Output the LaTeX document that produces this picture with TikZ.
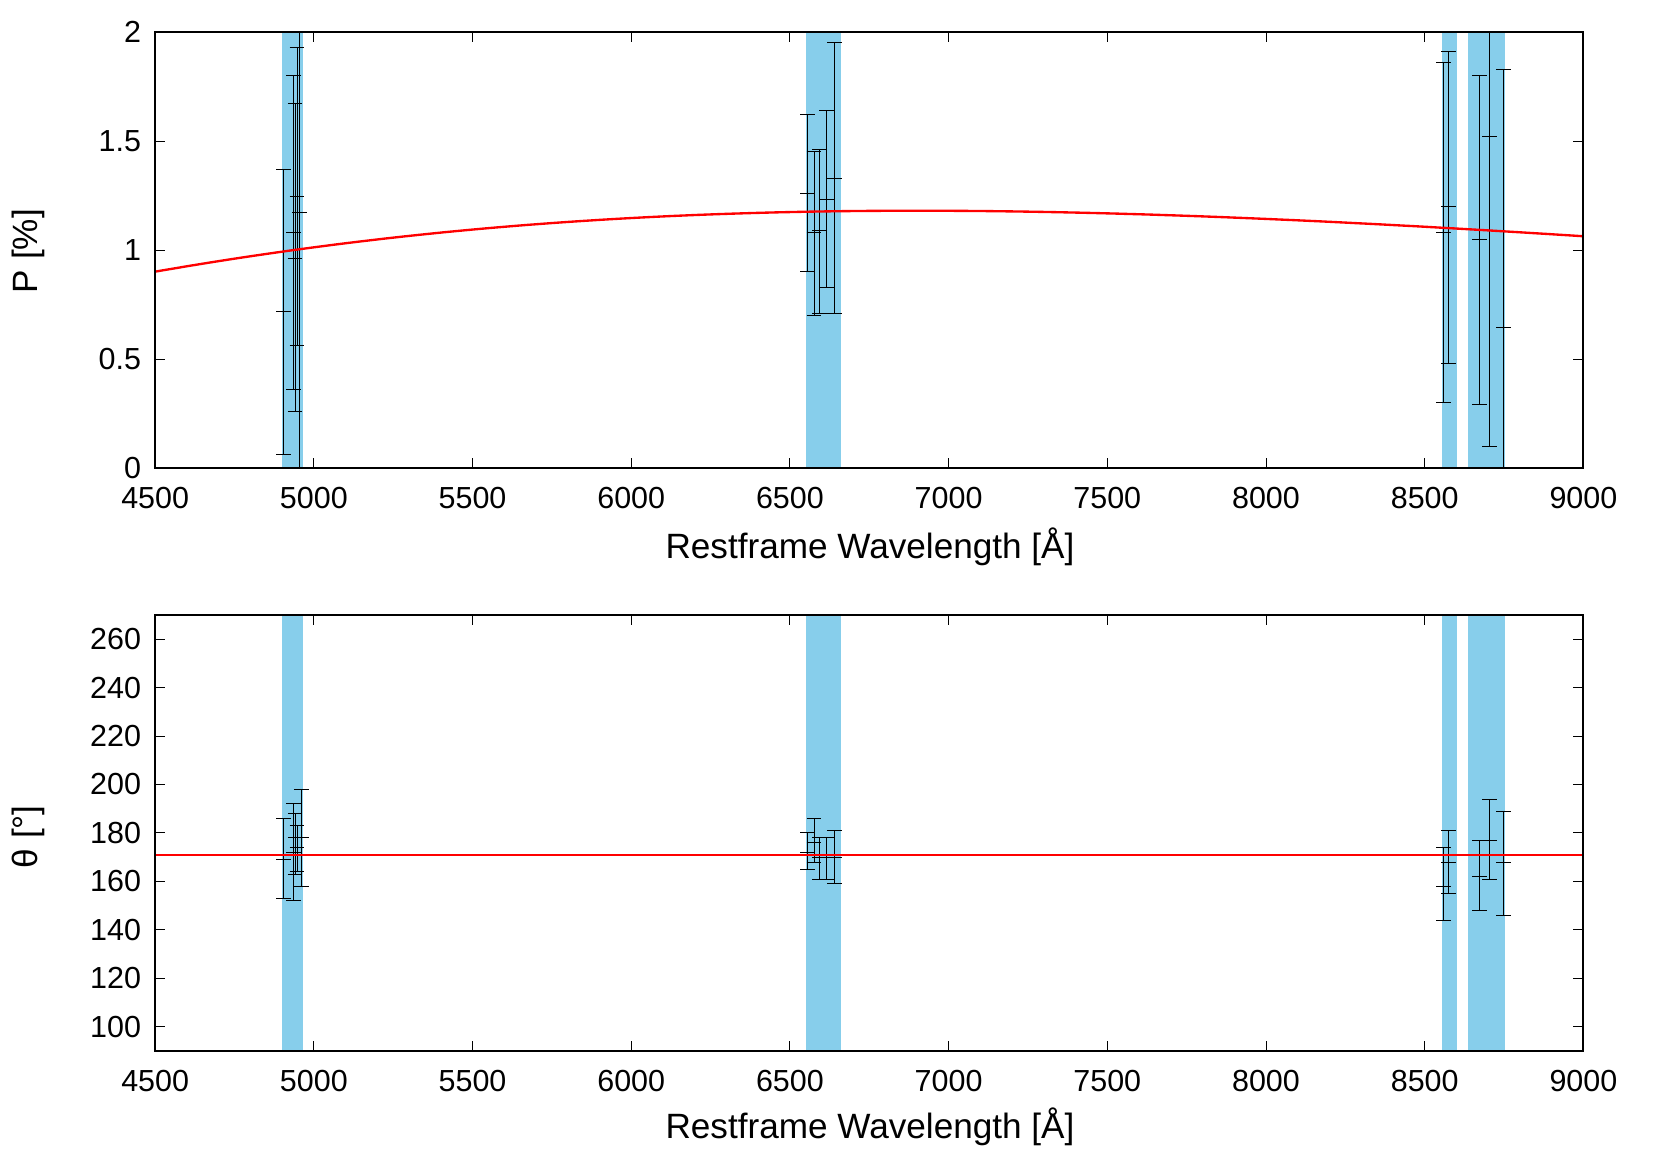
\documentclass[tikz,border=0pt]{standalone}
\usepackage{fontspec}
\setmainfont{Liberation Sans}
\definecolor{band}{HTML}{87CEEB}
\tikzset{frame/.style={line width=1.6pt},
 ebarline/.style={line width=0.8pt,black},
 fit/.style={red,line width=2pt},
 ticklab/.style={font=\fontsize{26}{30}\selectfont},
 axlab/.style={font=\fontsize{30}{35}\selectfont}}
\newcommand{\ebar}[4]{\draw[ebarline] (#1,#2)--(#1,#4);
 \draw[ebarline] ([xshift=-0.22cm]#1,#2)--([xshift=0.22cm]#1,#2);
 \draw[ebarline] ([xshift=-0.22cm]#1,#3)--([xshift=0.22cm]#1,#3);
 \draw[ebarline] ([xshift=-0.22cm]#1,#4)--([xshift=0.22cm]#1,#4);}
\begin{document}
\begin{tikzpicture}
\useasboundingbox (0,0) rectangle (49.83,-34.89);
% ---------- top panel ----------
\begin{scope}[x=0.009520cm,y=6.54cm,shift={(-38.19cm,-14.04cm)}]
 \fill[band] (4900,0) rectangle (4965,2);
 \fill[band] (6550,0) rectangle (6660,2);
 \fill[band] (8553,0) rectangle (8603,2);
 \fill[band] (8638,0) rectangle (8754,2);
 \begin{scope}
 \clip (4500,0) rectangle (9000,2);
 \ebar{4904}{0.06}{0.72}{1.37}
 \ebar{4936}{0.36}{1.08}{1.80}
 \ebar{4941}{0.26}{0.96}{1.67}
 \ebar{4947}{0.56}{1.245}{1.93}
 \ebar{4955}{-0.2}{1.17}{2.5}
 \ebar{6556}{0.90}{1.26}{1.62}
 \ebar{6576}{0.70}{1.08}{1.45}
 \ebar{6593}{0.71}{1.09}{1.46}
 \ebar{6616}{0.83}{1.23}{1.64}
 \ebar{6640}{0.71}{1.33}{1.95}
 \ebar{8560}{0.30}{1.08}{1.86}
 \ebar{8576}{0.48}{1.20}{1.91}
 \ebar{8673}{0.29}{1.05}{1.80}
 \ebar{8704}{0.10}{1.52}{2.94}
 \ebar{8749}{-0.54}{0.645}{1.83}
 \draw[fit] plot[domain=4500:9000,samples=120] (\x,{1.18*exp(-1.48*(ln(6900/\x))^2)});
 \end{scope}
 \foreach \v in {4500,5000,...,9000}{
  \draw[frame,line width=0.8pt] (\v,0)--++(0,0.045) (\v,2)--++(0,-0.045);
  \node[ticklab,anchor=north] at ([yshift=-0.45cm]\v,0) {\v};}
 \foreach \v/\t in {0/0,0.5/0.5,1/1,1.5/1.5,2/2}{
  \draw[frame,line width=0.8pt] (4500,\v)--++(0.3cm,0) (9000,\v)--++(-0.3cm,0);
  \node[ticklab,anchor=east] at ([xshift=-0.3cm]4500,\v) {\t};}
 \draw[frame] (4500,0) rectangle (9000,2);
\end{scope}
\node[axlab] (xl1) at (26.1,-16.4) {Restframe Wavelength [Å]};
\node[axlab,rotate=90] (yl1) at (0.85,-7.53) {P [\%]};
% ---------- bottom panel ----------
\begin{scope}[x=0.009520cm,y=0.07267cm,shift={(-38.19cm,-38.07cm)}]
 \fill[band] (4900,90) rectangle (4965,270);
 \fill[band] (6550,90) rectangle (6660,270);
 \fill[band] (8553,90) rectangle (8603,270);
 \fill[band] (8638,90) rectangle (8754,270);
 \ebar{4904}{153}{169}{186}
 \ebar{4936}{152}{172}{192}
 \ebar{4941}{163}{178}{188}
 \ebar{4947}{164}{174}{183}
 \ebar{4960}{158}{178}{198}
 \ebar{6556}{165}{172}{180}
 \ebar{6576}{168}{176}{186}
 \ebar{6593}{161}{170}{178}
 \ebar{6616}{161}{170}{178}
 \ebar{6640}{159}{170}{181}
 \ebar{8560}{144}{158}{174}
 \ebar{8576}{155}{168}{181}
 \ebar{8673}{148}{162}{177}
 \ebar{8704}{161}{177}{194}
 \ebar{8749}{146}{168}{189}
 \draw[fit] (4500,171)--(9000,171);
 \foreach \v in {4500,5000,...,9000}{
  \draw[frame,line width=0.8pt] (\v,90)--++(0,0.3cm) (\v,270)--++(0,-0.3cm);
  \node[ticklab,anchor=north] at ([yshift=-0.45cm]\v,90) {\v};}
 \foreach \v in {100,120,...,260}{
  \draw[frame,line width=0.8pt] (4500,\v)--++(0.3cm,0) (9000,\v)--++(-0.3cm,0);
  \node[ticklab,anchor=east] at ([xshift=-0.3cm]4500,\v) {\v};}
 \draw[frame] (4500,90) rectangle (9000,270);
\end{scope}
\node[axlab] (xl2) at (26.1,-33.8) {Restframe Wavelength [Å]};
\node[axlab,rotate=90] (yl2) at (0.85,-25.1) {θ [°]};
\end{tikzpicture}
\end{document}
